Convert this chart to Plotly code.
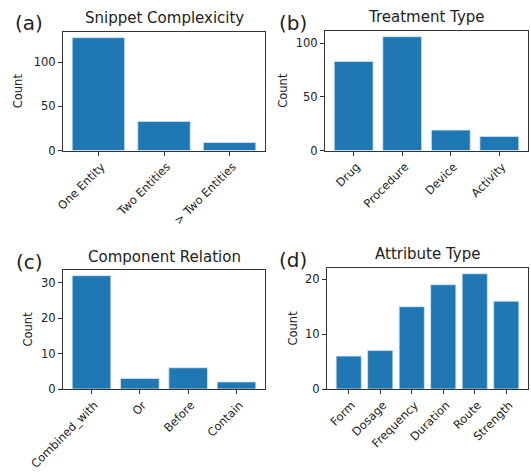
import plotly.graph_objects as go

W, H = 531, 472

cat_a = ["One Entity", "Two Entities", "> Two Entities"]
val_a = [128, 33, 9]
cat_b = ["Drug", "Procedure", "Device", "Activity"]
val_b = [83, 106, 19, 13]
cat_c = ["Combined_with", "Or", "Before", "Contain"]
val_c = [32, 3, 6, 2]
cat_d = ["Form", "Dosage", "Frequency", "Duration", "Route", "Strength"]
val_d = [6, 7, 15, 19, 21, 16]

titles = ["Snippet Complexicity", "Treatment Type", "Component Relation", "Attribute Type"]
labels = ["(a)", "(b)", "(c)", "(d)"]
dticks = [50, 50, 10, 10]

# pixel boxes: left, right, top, bottom
boxes = [(63, 265, 32, 150.5), (325, 528, 31, 150.5), (63, 265, 270, 389), (327, 528, 268, 389)]
label_pos = [(29, 23), (293, 23), (29, 261.5), (293, 260)]
ytitle_x = [18, 283, 27, 292]

data = [(cat_a, val_a), (cat_b, val_b), (cat_c, val_c), (cat_d, val_d)]

fig = go.Figure()
FONT = "DejaVu Sans"
TXT = "#222222"
annotations = []
for i, ((cats, vals), (l, r, t, b)) in enumerate(zip(data, boxes)):
    n = i + 1
    xa = "x" if n == 1 else f"x{n}"
    ya = "y" if n == 1 else f"y{n}"
    fig.add_trace(go.Bar(x=cats, y=vals, xaxis=xa, yaxis=ya, width=0.8,
                         marker=dict(color="#1f77b4", line=dict(color="#d6e6f2", width=0.8)),
                         showlegend=False, hoverinfo="skip"))
    nb = len(cats)
    span = (nb - 1) + 0.8
    xr = [-0.4 - 0.05 * span, nb - 1 + 0.4 + 0.05 * span]
    yr = [0, max(vals) * 1.05]
    common = dict(showline=True, mirror=True, linecolor="#333333", linewidth=1,
                  ticks="outside", ticklen=4, tickcolor="#333333", showgrid=False,
                  zeroline=False, automargin=False)
    fig.layout[f"xaxis{'' if n == 1 else n}"] = dict(
        domain=[l / W, r / W], anchor=ya, range=xr, tickangle=-45, ticklabelshift=3,
        tickfont=dict(family=FONT, size=11.5, color=TXT), **common)
    fig.layout[f"yaxis{'' if n == 1 else n}"] = dict(
        domain=[1 - b / H, 1 - t / H], anchor=xa, range=yr, dtick=dticks[i],
        tickfont=dict(family=FONT, size=11.5, color=TXT), **common)
    annotations.append(dict(text=titles[i], x=(l + r) / 2 / W, y=1 - (t - 13.5) / H,
                            xref="paper", yref="paper", showarrow=False,
                            font=dict(family=FONT, size=15, color=TXT),
                            xanchor="center", yanchor="middle"))
    lx, ly = label_pos[i]
    annotations.append(dict(text=labels[i], x=lx / W, y=1 - ly / H,
                            xref="paper", yref="paper", showarrow=False,
                            font=dict(family=FONT, size=20, color=TXT),
                            xanchor="center", yanchor="middle"))
    annotations.append(dict(text="Count", x=ytitle_x[i] / W, y=1 - (t + b) / 2 / H,
                            xref="paper", yref="paper", showarrow=False, textangle=-90,
                            font=dict(family=FONT, size=11.5, color=TXT),
                            xanchor="center", yanchor="middle"))

fig.update_layout(width=W, height=H, margin=dict(l=0, r=0, t=0, b=0, autoexpand=False),
                  paper_bgcolor="white", plot_bgcolor="white",
                  annotations=annotations, bargap=0.2)
fig.write_html("out.html", config={"displayModeBar": False, "staticPlot": True},
               post_script="document.body.style.margin='0';document.body.style.padding='0';document.body.style.overflow='hidden';")
